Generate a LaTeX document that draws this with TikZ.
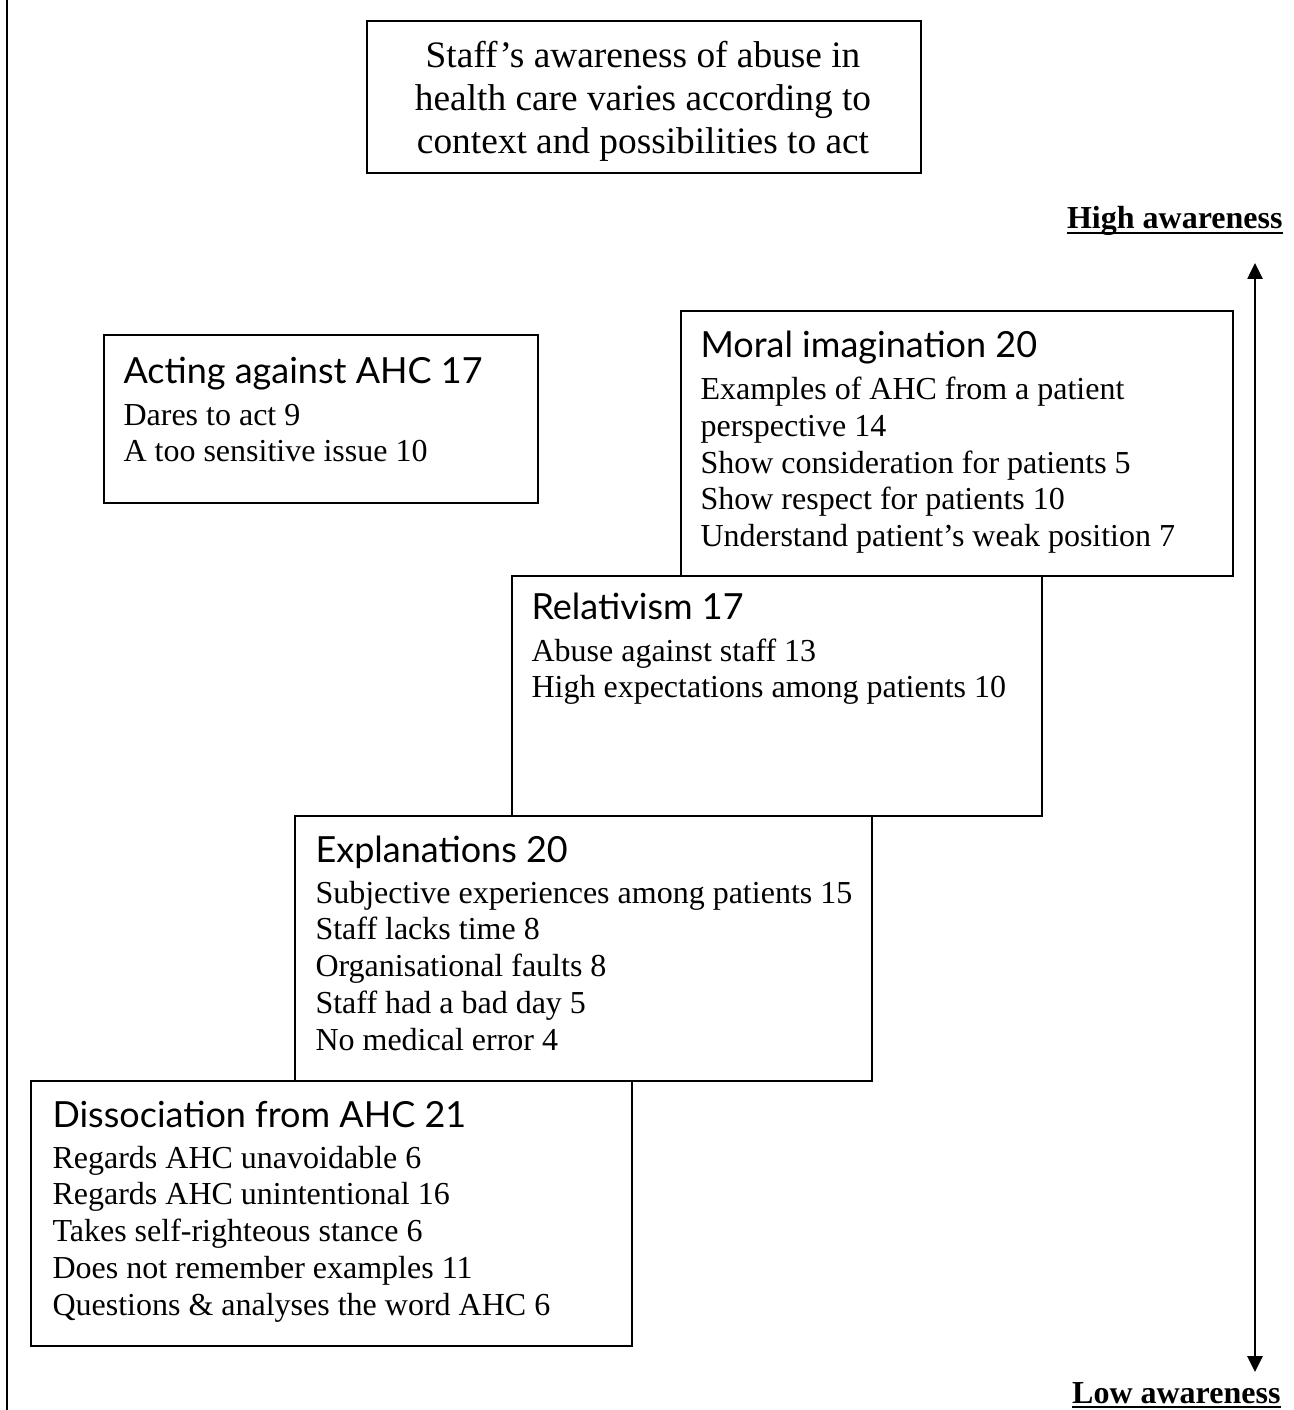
\documentclass[tikz,border=0pt]{standalone}
\usepackage{fontspec}
\setmainfont{Liberation Serif}
\newfontfamily\headfont{Lato}
\usetikzlibrary{arrows.meta}
\newcommand\hd[1]{{\headfont\fontsize{13.5}{16}\selectfont #1}}
\begin{document}
\begin{tikzpicture}[x=0.375pt,y=-0.375pt,
  box/.style n args={2}{draw, line width=0.75pt, rectangle, inner sep=0pt, anchor=north west,
     minimum width=#1*0.375pt, minimum height=#2*0.375pt},
  txt/.style={inner sep=0pt, anchor=base west, font=\fontsize{12}{13.8}\selectfont},
  lab/.style={inner sep=0pt, anchor=base east, font=\fontsize{12}{13.8}\selectfont\bfseries},
  uline/.style={line width=0.75pt},
  awarrow/.style={line width=1.1pt, {Triangle[width=5.6pt,length=6pt]}-{Triangle[width=5.6pt,length=6pt]}}]
\useasboundingbox (0,0) rectangle (1293,1410);

% left margin line
\coordinate (lt) at (7,0);
\coordinate (lb) at (7,1410);
\draw[line width=0.75pt] (lt) -- (lb);

% title
\node[box={554}{152}] (title) at (366,20) {};
\node[inner sep=0pt, align=center, font=\fontsize{14}{16.1}\selectfont] (titletxt) at (643,101)
  {Staff’s awareness of abuse in\\health care varies according to\\context and possibilities to act};

% boxes
\node[box={434}{168}] (acting) at (103,334) {};
\node[box={530}{240}] (relat) at (511,575) {};
\node[box={577}{265}] (expl) at (294,815) {};
\node[box={552}{265}] (moral) at (680,310) {};
\node[box={601}{265}] (dissoc) at (30,1080) {};

% box texts
\node[txt] (actingtxt) at (123,384) {\begin{tabular}[t]{@{}l@{}}\hd{Acting against AHC 17}\\[1.6pt]
  Dares to act 9\\ A too sensitive issue 10\end{tabular}};
\node[txt] (moraltxt) at (700,358) {\begin{tabular}[t]{@{}l@{}}\hd{Moral imagination 20}\\[1.8pt]
  Examples of AHC from a patient\\ perspective 14\\ Show consideration for patients 5\\
  Show respect for patients 10\\ Understand patient’s weak position 7\end{tabular}};
\node[txt] (relattxt) at (531,620) {\begin{tabular}[t]{@{}l@{}}\hd{Relativism 17}\\[1.6pt]
  Abuse against staff 13\\ High expectations among patients 10\end{tabular}};
\node[txt] (expltxt) at (315,862) {\begin{tabular}[t]{@{}l@{}}\hd{Explanations 20}\\[1.6pt]
  Subjective experiences among patients 15\\ Staff lacks time 8\\ Organisational faults 8\\
  Staff had a bad day 5\\ No medical error 4\end{tabular}};
\node[txt] (dissoctxt) at (52,1127) {\begin{tabular}[t]{@{}l@{}}\hd{Dissociation from AHC 21}\\[1.6pt]
  Regards AHC unavoidable 6\\ Regards AHC unintentional 16\\ Takes self-righteous stance 6\\
  Does not remember examples 11\\ Questions \& analyses the word AHC 6\end{tabular}};

% awareness scale
\node[lab] (hi) at (1283,229) {High awareness};
\draw[uline] ([yshift=-1.6pt]hi.base west) -- ([yshift=-1.6pt]hi.base east);
\node[lab] (lo) at (1281,1403) {Low awareness};
\draw[uline] ([yshift=-1.6pt]lo.base west) -- ([yshift=-1.6pt]lo.base east);
\coordinate (hitip) at (1255,263);
\coordinate (lotip) at (1255,1372);
\draw[awarrow] (hitip) -- (lotip);
\end{tikzpicture}
\end{document}
